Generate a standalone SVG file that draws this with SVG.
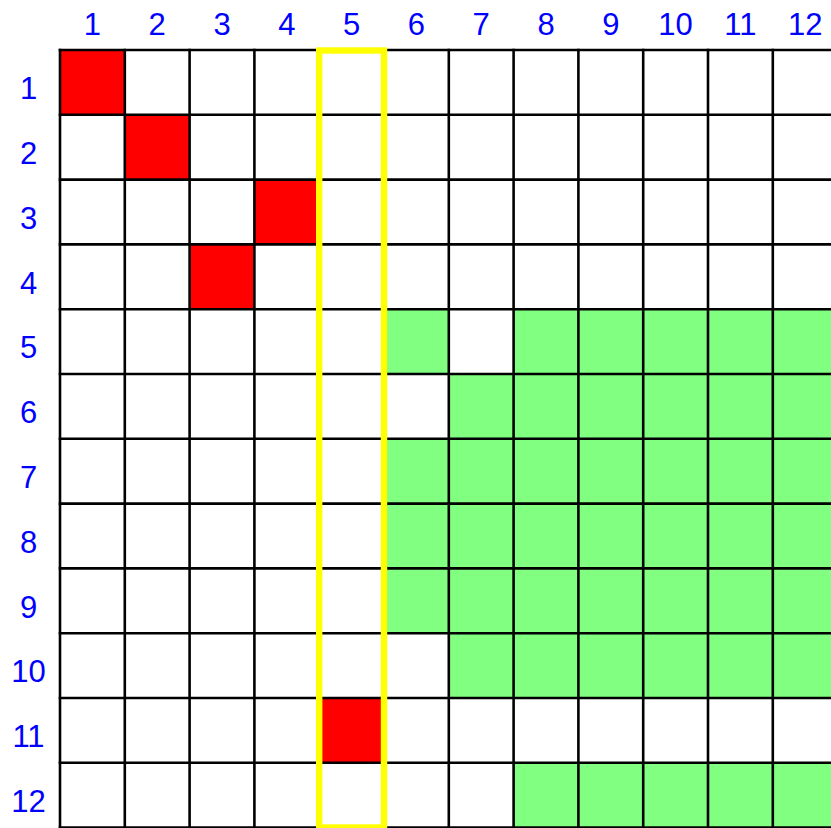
<svg xmlns="http://www.w3.org/2000/svg" width="831" height="828" viewBox="0 0 831 828">
<style>
.lbl{font-family:"Liberation Sans",Arial,sans-serif;font-size:31px;fill:#0000ff;text-anchor:middle}
.red{fill:#ff0000}
.green{fill:#80ff80}
.grid line{stroke:#000;stroke-width:2.6}
</style>
<rect x="0" y="0" width="831" height="828" fill="#fff"/>
<g id="green-cells">
<rect class="green" x="384" y="309.2" width="64.8" height="64.8"/>
<rect class="green" x="513.6" y="309.2" width="324" height="64.8"/>
<rect class="green" x="448.8" y="374" width="388.8" height="64.8"/>
<rect class="green" x="384" y="438.8" width="453.6" height="194.4"/>
<rect class="green" x="448.8" y="633.2" width="388.8" height="64.8"/>
<rect class="green" x="513.6" y="762.8" width="324" height="64.8"/>
</g>
<g id="red-cells">
<rect class="red" x="60" y="50" width="64.8" height="64.8"/>
<rect class="red" x="124.8" y="114.8" width="64.8" height="64.8"/>
<rect class="red" x="254.4" y="179.6" width="64.8" height="64.8"/>
<rect class="red" x="189.6" y="244.4" width="64.8" height="64.8"/>
<rect class="red" x="319.2" y="698" width="64.8" height="64.8"/>
</g>
<g id="grid" class="grid">
<line x1="60" y1="48.7" x2="60" y2="828"/>
<line x1="124.8" y1="48.7" x2="124.8" y2="828"/>
<line x1="189.6" y1="48.7" x2="189.6" y2="828"/>
<line x1="254.4" y1="48.7" x2="254.4" y2="828"/>
<line x1="319.2" y1="48.7" x2="319.2" y2="828"/>
<line x1="384" y1="48.7" x2="384" y2="828"/>
<line x1="448.8" y1="48.7" x2="448.8" y2="828"/>
<line x1="513.6" y1="48.7" x2="513.6" y2="828"/>
<line x1="578.4" y1="48.7" x2="578.4" y2="828"/>
<line x1="643.2" y1="48.7" x2="643.2" y2="828"/>
<line x1="708" y1="48.7" x2="708" y2="828"/>
<line x1="772.8" y1="48.7" x2="772.8" y2="828"/>
<line x1="58.7" y1="50" x2="831" y2="50"/>
<line x1="58.7" y1="114.8" x2="831" y2="114.8"/>
<line x1="58.7" y1="179.6" x2="831" y2="179.6"/>
<line x1="58.7" y1="244.4" x2="831" y2="244.4"/>
<line x1="58.7" y1="309.2" x2="831" y2="309.2"/>
<line x1="58.7" y1="374" x2="831" y2="374"/>
<line x1="58.7" y1="438.8" x2="831" y2="438.8"/>
<line x1="58.7" y1="503.6" x2="831" y2="503.6"/>
<line x1="58.7" y1="568.4" x2="831" y2="568.4"/>
<line x1="58.7" y1="633.2" x2="831" y2="633.2"/>
<line x1="58.7" y1="698" x2="831" y2="698"/>
<line x1="58.7" y1="762.8" x2="831" y2="762.8"/>
<line x1="58.7" y1="827.6" x2="831" y2="827.6"/>
</g>
<g id="highlight-column-5">
<rect x="319.2" y="50.5" width="64.8" height="777" fill="none" stroke="#ffff00" stroke-width="6.4"/>
</g>
<g id="column-labels">
<text class="lbl" x="92.4" y="34.7">1</text>
<text class="lbl" x="157.2" y="34.7">2</text>
<text class="lbl" x="222" y="34.7">3</text>
<text class="lbl" x="286.8" y="34.7">4</text>
<text class="lbl" x="351.6" y="34.7">5</text>
<text class="lbl" x="416.4" y="34.7">6</text>
<text class="lbl" x="481.2" y="34.7">7</text>
<text class="lbl" x="546" y="34.7">8</text>
<text class="lbl" x="610.8" y="34.7">9</text>
<text class="lbl" x="675.6" y="34.7">10</text>
<text class="lbl" x="740.4" y="34.7">11</text>
<text class="lbl" x="805.2" y="34.7">12</text>
</g>
<g id="row-labels">
<text class="lbl" x="28.5" y="99.2">1</text>
<text class="lbl" x="28.5" y="164">2</text>
<text class="lbl" x="28.5" y="228.8">3</text>
<text class="lbl" x="28.5" y="293.6">4</text>
<text class="lbl" x="28.5" y="358.4">5</text>
<text class="lbl" x="28.5" y="423.2">6</text>
<text class="lbl" x="28.5" y="488">7</text>
<text class="lbl" x="28.5" y="552.8">8</text>
<text class="lbl" x="28.5" y="617.6">9</text>
<text class="lbl" x="28.5" y="682.2">10</text>
<text class="lbl" x="28.5" y="747">11</text>
<text class="lbl" x="28.5" y="811.8">12</text>
</g>
</svg>
